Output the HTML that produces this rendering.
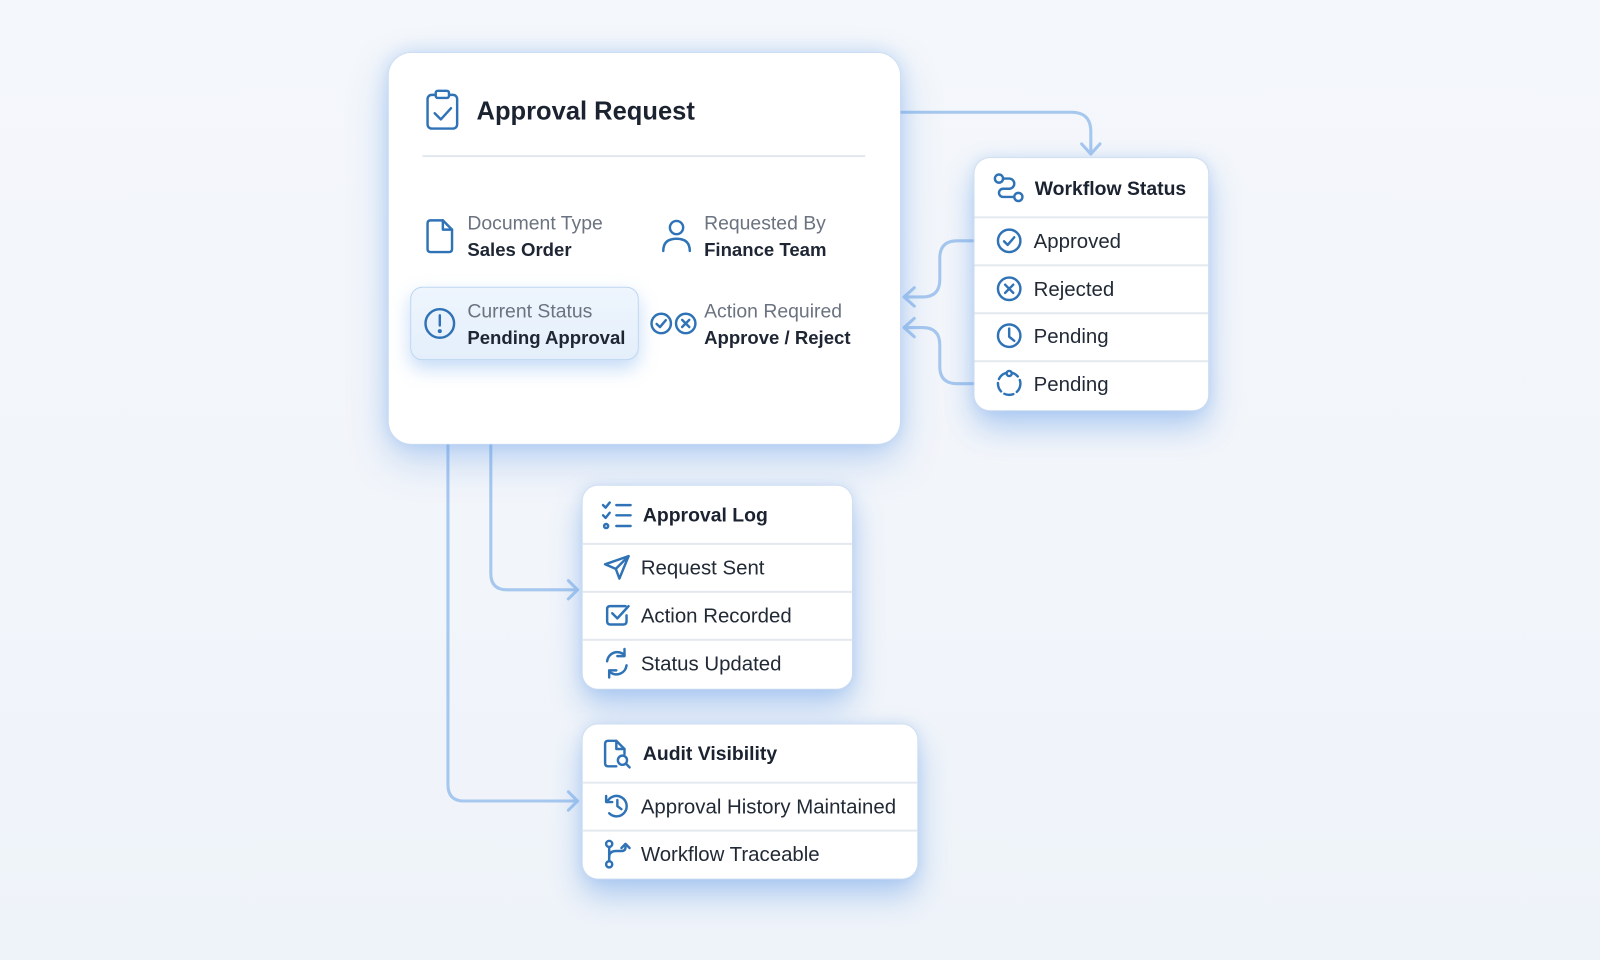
<!DOCTYPE html>
<html>
<head>
<meta charset="utf-8">
<style>
  html,body{margin:0;padding:0;width:1600px;height:960px;overflow:hidden;}
  body{background:linear-gradient(180deg,#f4f7fb 0%,#f2f5fa 60%,#eef3f9 100%);font-family:"Liberation Sans",Arial,sans-serif;}
  #stage{position:absolute;left:0;top:0;width:1568px;height:941px;transform:scale(1.020408);transform-origin:0 0;}
  .card{position:absolute;background:#fff;}
  .main{left:381px;top:52px;width:501px;height:383px;border-radius:22px;
    box-shadow:0 0 0 1px rgba(200,218,240,0.6),0 0 18px rgba(120,170,235,0.40),0 16px 38px rgba(90,150,230,0.34);}
  .small{border-radius:15px;box-shadow:0 0 0 1px rgba(205,220,240,0.7),0 0 12px rgba(130,175,235,0.30),0 16px 30px rgba(90,150,230,0.45);overflow:hidden;}
  .sep{position:absolute;left:0;right:0;height:1.5px;background:#e4e9f0;}
  .t{position:absolute;white-space:nowrap;line-height:24px;height:24px;}
  .title{font-size:25px;font-weight:bold;color:#1b2230;line-height:30px;height:30px;}
  .lab{font-size:19px;color:#6b7280;}
  .val{font-size:18.2px;font-weight:bold;color:#1e2533;}
  .hd{font-size:19px;font-weight:bold;color:#1b2230;}
  .row{font-size:20px;color:#222a36;}
  .hl{position:absolute;left:402px;top:281px;width:224px;height:72px;border-radius:12px;background:linear-gradient(180deg,#eef5fd,#e4effb);border:1.5px solid #bcd5f1;box-sizing:border-box;box-shadow:0 8px 18px rgba(100,160,235,0.38);}
  svg{position:absolute;left:0;top:0;}
</style>
</head>
<body>
<div id="stage">
  <!-- connectors -->
  <svg width="1568" height="941" style="z-index:1">
    <g fill="none" stroke="#a6c7ee" stroke-width="3" stroke-linecap="round" stroke-linejoin="round">
      <path d="M882 110 H1050 Q1069 110 1069 129 V150"/>
      <path d="M1060 141 L1069 151 L1078 141"/>
      <path d="M955 236 H938 Q921 236 921 253 V274 Q921 291 904 291 H887"/>
      <path d="M896 282 L886 291 L896 300"/>
      <path d="M955 376 H938 Q921 376 921 359 V338 Q921 321 904 321 H887"/>
      <path d="M896 312 L886 321 L896 330"/>
      <path d="M481 436 V562 Q481 578 497 578 H566"/>
      <path d="M557 569 L566 578 L557 587"/>
      <path d="M439 436 V769 Q439 785 455 785 H566"/>
      <path d="M557 776 L566 785 L557 794"/>
    </g>
  </svg>

  <!-- main card -->
  <div class="card main" style="z-index:2"></div>
  <div class="hl" style="z-index:2"></div>

  <!-- workflow card -->
  <div class="card small" style="left:955px;top:155px;width:229px;height:247px;z-index:2">
    <div class="sep" style="top:57px"></div>
    <div class="sep" style="top:104px"></div>
    <div class="sep" style="top:151px"></div>
    <div class="sep" style="top:198px"></div>
  </div>

  <!-- approval log -->
  <div class="card small" style="left:571px;top:476px;width:264px;height:199px;z-index:2">
    <div class="sep" style="top:56px"></div>
    <div class="sep" style="top:103px"></div>
    <div class="sep" style="top:150px"></div>
  </div>

  <!-- audit -->
  <div class="card small" style="left:571px;top:710px;width:328px;height:151px;z-index:2">
    <div class="sep" style="top:56px"></div>
    <div class="sep" style="top:103px"></div>
  </div>

  <!-- main divider -->
  <div style="position:absolute;left:414px;top:152px;width:434px;height:1.5px;background:#e3e8ef;z-index:3"></div>

  <!-- text -->
  <div style="position:absolute;left:0;top:0;z-index:4">
    <div class="t title" style="left:467px;top:94px">Approval Request</div>

    <div class="t lab" style="left:458px;top:208px">Document Type</div>
    <div class="t val" style="left:458px;top:233px">Sales Order</div>
    <div class="t lab" style="left:690px;top:208px">Requested By</div>
    <div class="t val" style="left:690px;top:233px">Finance Team</div>

    <div class="t lab" style="left:458px;top:294px">Current Status</div>
    <div class="t val" style="left:458px;top:319px">Pending Approval</div>
    <div class="t lab" style="left:690px;top:294px">Action Required</div>
    <div class="t val" style="left:690px;top:319px">Approve / Reject</div>

    <div class="t hd" style="left:1014px;top:174px">Workflow Status</div>
    <div class="t row" style="left:1013px;top:225px">Approved</div>
    <div class="t row" style="left:1013px;top:272px">Rejected</div>
    <div class="t row" style="left:1013px;top:318px">Pending</div>
    <div class="t row" style="left:1013px;top:365px">Pending</div>

    <div class="t hd" style="left:630px;top:494px">Approval Log</div>
    <div class="t row" style="left:628px;top:545px">Request Sent</div>
    <div class="t row" style="left:628px;top:592px">Action Recorded</div>
    <div class="t row" style="left:628px;top:639px">Status Updated</div>

    <div class="t hd" style="left:630px;top:728px">Audit Visibility</div>
    <div class="t row" style="left:628px;top:779px">Approval History Maintained</div>
    <div class="t row" style="left:628px;top:826px">Workflow Traceable</div>
  </div>

  <!-- icons -->
  <svg width="1568" height="941" style="z-index:5">
    <g fill="none" stroke="#2f73b6" stroke-width="2.4" stroke-linecap="round" stroke-linejoin="round">
      <!-- clipboard -->
      <rect x="419" y="93" width="29" height="33" rx="4"/>
      <rect x="427" y="89" width="13" height="7" rx="2" fill="#fff"/>
      <path d="M426 111 L432 117 L442 106"/>
      <!-- document -->
      <path d="M422 216 H434 L443 225 V244 Q443 247 440 247 H422 Q419 247 419 244 V219 Q419 216 422 216 Z"/>
      <path d="M434 216 V225 H443"/>
      <!-- person -->
      <circle cx="663" cy="223" r="6.5"/>
      <path d="M650 246 Q650 234 663 234 Q676 234 676 246"/>
      <!-- exclamation -->
      <circle cx="431" cy="317" r="14"/>
      <path d="M431 309 V319"/>
      <circle cx="431" cy="324.5" r="0.8" fill="#2f73b6"/>
      <!-- check / x small -->
      <circle cx="648" cy="317" r="9.5"/>
      <path d="M643.5 317.5 L646.8 320.5 L652.5 313.8"/>
      <circle cx="672" cy="317" r="9.5"/>
      <path d="M668.5 313.5 L675.5 320.5 M675.5 313.5 L668.5 320.5"/>

      <!-- workflow header icon -->
      <circle cx="979" cy="175" r="4"/>
      <circle cx="998" cy="193" r="4"/>
      <path d="M983 175 H989 A5 5 0 0 1 989 185 H983 A4 4 0 0 0 983 193 H994"/>
      <!-- approved -->
      <circle cx="989" cy="236" r="11"/>
      <path d="M984 236.5 L987.5 240 L994 232.5"/>
      <!-- rejected -->
      <circle cx="989" cy="283" r="11"/>
      <path d="M985 279 L993 287 M993 279 L985 287"/>
      <!-- clock -->
      <circle cx="989" cy="329" r="11"/>
      <path d="M989 322 V330 L994 334"/>
      <!-- dashed pending -->
      <circle cx="989" cy="376" r="11" stroke-dasharray="9 4"/>
      <circle cx="989" cy="366" r="2.5" fill="#fff"/>

      <!-- list-checks -->
      <path d="M591 495 L593.5 497.5 L597.5 492.5"/>
      <path d="M591 505 L593.5 507.5 L597.5 502.5"/>
      <circle cx="594" cy="515.5" r="2"/>
      <path d="M604 495 H618 M604 505 H618 M604 515.5 H618"/>
      <!-- send -->
      <path d="M593 553 L616 545 L607 567 L603.5 557.5 Z"/>
      <path d="M603.5 557.5 L616 545"/>
      <!-- square check -->
      <path d="M613 594 H598 Q595 594 595 597 V609 Q595 612 598 612 H611 Q614 612 614 609 V603"/>
      <path d="M600 601 L605 606 L616 594"/>
      <!-- refresh -->
      <path d="M595 648 A10 10 0 0 1 612 642"/>
      <path d="M612 636 V643 H605"/>
      <path d="M614 652 A10 10 0 0 1 597 658"/>
      <path d="M597 664 V657 H604"/>

      <!-- file search -->
      <path d="M604 751 H596 Q593 751 593 748 V729 Q593 726 596 726 H604 L612 734 V739"/>
      <path d="M604 726 V734 H612"/>
      <circle cx="610" cy="745" r="4.5"/>
      <path d="M613.5 748.5 L617 752"/>
      <!-- history -->
      <path d="M595 786 A10 10 0 1 1 597 797"/>
      <path d="M594 780 V786 H600"/>
      <path d="M605 784 V790 L609 793"/>
      <!-- git branch -->
      <circle cx="597" cy="827" r="3"/>
      <circle cx="597" cy="847" r="3"/>
      <path d="M597 830 V844"/>
      <path d="M597 840 Q597 834 604 834 H609 Q613 834 613 830"/>
      <path d="M609 831 L613 827 L617 831"/>
    </g>
  </svg>
</div>
</body>
</html>
